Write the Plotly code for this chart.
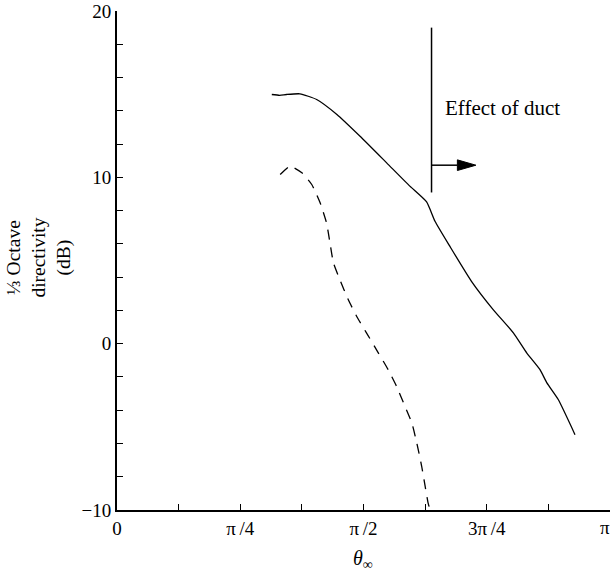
import numpy as np
import plotly.graph_objects as go

# ---- data (theta given as fraction of pi, directivity in dB) ----
solid_theta_over_pi = [0.314, 0.330, 0.344, 0.371, 0.405, 0.446, 0.493, 0.547, 0.594,
                       0.628, 0.645, 0.675, 0.719, 0.763, 0.804, 0.831, 0.858, 0.872,
                       0.895, 0.929]
solid_db = [14.98, 14.93, 14.98, 15.02, 14.68, 13.78, 12.47, 10.87, 9.47,
            8.52, 7.36, 5.86, 3.75, 2.05, 0.65, -0.55, -1.56, -2.36,
            -3.36, -5.47]

dashed_theta_over_pi = [0.331, 0.351, 0.375, 0.395, 0.412, 0.425, 0.432, 0.439, 0.452,
                        0.469, 0.486, 0.506, 0.530, 0.550, 0.567, 0.584, 0.598, 0.608,
                        0.618, 0.625, 0.631, 0.635]
dashed_db = [10.17, 10.67, 10.27, 9.57, 8.47, 7.26, 6.06, 4.86, 3.85,
             2.65, 1.65, 0.65, -0.55, -1.56, -2.56, -3.76, -4.76, -5.96,
             -7.37, -8.57, -9.57, -9.98]

x_tick_fracs = [0, 1/8, 2/8, 3/8, 4/8, 5/8, 6/8, 7/8, 1]
# last label (pi) is drawn as an annotation right-aligned to the page edge
x_tick_text = ["0", "", "\u03c0\u2009/4", "", "\u03c0\u2009/2", "", "3\u03c0\u2009/4", "", ""]
last_x_label = "\u03c0"
y_tick_vals = list(range(-10, 21, 2))
y_tick_text = ["\u221210" if v == -10 else (str(v) if v % 10 == 0 else "") for v in y_tick_vals]

# annotation geometry (data units)
duct_theta = 0.638 * np.pi
duct_y0, duct_y1 = 9.09, 19.0
arrow_y = 10.73
arrow_tip = 0.728 * np.pi
head_len = 0.118
head_half = 0.32
label_theta = 0.661 * np.pi
label_y = 14.14

FONT = "Liberation Serif"

fig = go.Figure()
fig.add_trace(go.Scatter(
    x=np.array(solid_theta_over_pi) * np.pi, y=solid_db, mode="lines",
    line=dict(color="black", width=1.3, shape="spline", smoothing=0.5), showlegend=False))
fig.add_trace(go.Scatter(
    x=np.array(dashed_theta_over_pi) * np.pi, y=dashed_db, mode="lines",
    line=dict(color="black", width=1.3, dash="10px,8px", shape="spline", smoothing=0.5),
    showlegend=False))

fig.add_shape(type="line", xref="x", yref="y", x0=duct_theta, x1=duct_theta,
              y0=duct_y0, y1=duct_y1, line=dict(color="black", width=1.5))
fig.add_shape(type="line", xref="x", yref="y", x0=duct_theta, x1=arrow_tip - head_len,
              y0=arrow_y, y1=arrow_y, line=dict(color="black", width=1.5))
fig.add_shape(type="path", xref="x", yref="y",
              path=f"M {arrow_tip - head_len} {arrow_y - head_half} L {arrow_tip} {arrow_y} "
                   f"L {arrow_tip - head_len} {arrow_y + head_half} Z",
              fillcolor="black", line=dict(color="black", width=1))

fig.add_annotation(x=label_theta, y=label_y, xref="x", yref="y", text="Effect of duct",
                   showarrow=False, xanchor="left", yanchor="middle",
                   font=dict(family=FONT, size=21, color="black"))
fig.add_annotation(x=-0.158, y=0.506, xref="paper", yref="paper",
                   text="\u2153 Octave<br>directivity<br>(dB)", textangle=-90,
                   showarrow=False, xanchor="center", yanchor="middle",
                   font=dict(family=FONT, size=19.5, color="black"))
fig.add_annotation(x=0.499, y=-0.099, xref="paper", yref="paper",
                   text="<i>\u03b8</i><sub>\u221e</sub>",
                   showarrow=False, xanchor="center", yanchor="middle",
                   font=dict(family=FONT, size=20, color="black"))
fig.add_annotation(x=1.002, y=-0.036, xref="paper", yref="paper",
                   text=last_x_label, showarrow=False, xanchor="right", yanchor="middle",
                   borderpad=0, font=dict(family=FONT, size=19, color="black"))

fig.update_layout(
    width=611, height=572,
    margin=dict(l=117, r=1, t=11, b=62),
    paper_bgcolor="white", plot_bgcolor="white",
    font=dict(family=FONT, size=19, color="black"),
    showlegend=False,
)
fig.update_xaxes(range=[0, np.pi], tickmode="array",
                 tickvals=[f * np.pi for f in x_tick_fracs], ticktext=x_tick_text,
                 ticks="inside", ticklen=6, tickwidth=1.2, tickcolor="black",
                 automargin=False,
                 showline=True, linecolor="black", linewidth=2,
                 showgrid=False, zeroline=False)
fig.update_yaxes(range=[-10, 20], tickmode="array",
                 tickvals=y_tick_vals, ticktext=y_tick_text,
                 ticks="inside", ticklen=6, tickwidth=1.2, tickcolor="black",
                 automargin=False,
                 showline=True, linecolor="black", linewidth=2,
                 showgrid=False, zeroline=False)

fig.write_html("out.html")
